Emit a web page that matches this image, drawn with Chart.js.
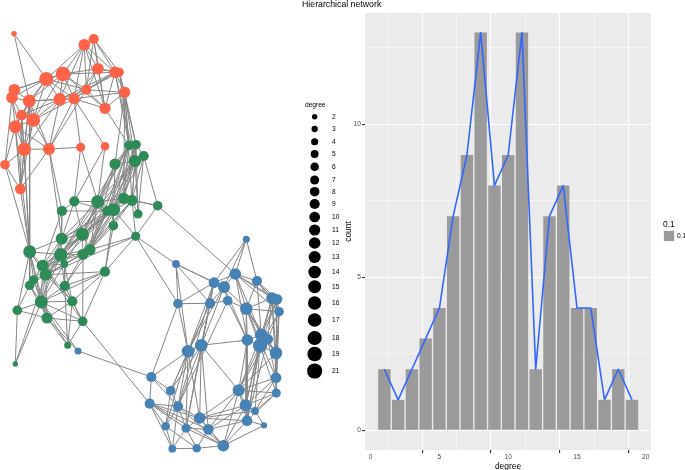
<!DOCTYPE html>
<html lang="en">
<head>
<meta charset="UTF-8" />
<title>Hierarchical network</title>
<script src="https://cdn.jsdelivr.net/npm/chart.js"></script>
<style>
  html, body { margin: 0; padding: 0; background: #fff; width: 685px; height: 470px; overflow: hidden; }
  body { position: relative; font-family: 'Liberation Sans', Arial, sans-serif; }
  canvas { position: absolute; display: block; }
  #network { left: 0; top: 0; }
  #sizeKey { left: 295px; top: 0; }
  #hist { left: 340px; top: 0; }
  .txt { position: absolute; white-space: nowrap; line-height: 1; }
  #title { left: 302px; top: 0; font-size: 8.75px; color: #000; }
  #keyTitle { left: 305px; top: 101.5px; font-size: 6.6px; color: #000; }
  #fillTitle { left: 663px; top: 219.5px; font-size: 8.4px; color: #000; }
  #fillLabel { left: 677px; top: 233px; font-size: 6.6px; color: #000; }
  #swatch { position: absolute; left: 663px; top: 230px; width: 12px; height: 12px; background: #f2f2f2; }
  #swatch i { position: absolute; left: 0.6px; top: 0.6px; width: 10.8px; height: 10.8px; background: #9a9a9a; }
</style>
</head>
<body>
<canvas id="network" width="295" height="470"></canvas>
<canvas id="sizeKey" width="50" height="470"></canvas>
<canvas id="hist" width="315" height="470"></canvas>
<div class="txt" id="title">Hierarchical network</div>
<div class="txt" id="keyTitle">degree</div>
<div class="txt" id="fillTitle">0.1</div>
<div id="swatch"><i></i></div>
<div class="txt" id="fillLabel">0.1</div>

<script>
  // layout positions of the network nodes, one list per community
  const redX = [14, 93.7, 84.3, 46.3, 63, 98, 115, 119.3, 14.3, 12, 29.3, 59.7, 74, 86.3, 124.7, 105, 21.7, 33.3, 15.3, 24.3, 49, 80.7, 105, 5, 20.3];
  const redY = [33.7, 39, 44.7, 79, 74, 68.7, 72.3, 72.3, 89.7, 97.7, 101, 99.3, 98.7, 89.7, 92.3, 108.3, 115, 120, 126.7, 149.3, 149, 147.3, 146.3, 164.7, 189];
  const redDegree = [2, 9, 12, 18, 19, 12, 12, 7, 12, 12, 15, 14, 11, 9, 11, 11, 10, 17, 15, 16, 13, 7, 6, 8, 10];

  const greenX = [129, 136, 143.7, 135, 115, 74.3, 97.7, 123.7, 132, 157.7, 62, 107.3, 113.7, 138, 113.3, 135.7, 61.7, 82.3, 29.7, 60.7, 83, 90, 64.3, 42.7, 45.7, 105, 33.7, 29.7, 64.7, 41.3, 72.3, 17.3, 47, 82.7, 67.7, 15.3];
  const greenY = [145.3, 144.7, 156, 161, 164, 201.3, 201.7, 198.3, 200.3, 205.7, 211, 211, 209.7, 214, 225.7, 236.3, 238.7, 234.3, 251.7, 254.7, 254.3, 249.7, 264, 265.7, 274.7, 271.7, 279.7, 285.3, 286, 302, 301.3, 310.3, 318, 321.3, 345.3, 364];
  const greenDegree = [8, 8, 9, 13, 11, 9, 15, 11, 11, 8, 9, 9, 15, 7, 8, 7, 13, 15, 15, 16, 11, 11, 5, 13, 13, 9, 7, 8, 9, 15, 9, 8, 11, 8, 4, 2];

  const blueX = [78, 246.3, 176, 235.3, 214, 224, 257, 178, 210, 227.7, 246.3, 272, 277, 279, 247.3, 261.3, 267.7, 260, 276, 201.3, 188, 151.3, 170.7, 238.7, 276, 276.3, 149.7, 178, 245.7, 255, 247, 264, 199.7, 165.7, 186, 208.3, 223.3, 172.3, 196.7];
  const blueY = [351, 239.3, 264, 274, 282.7, 287, 281, 303.7, 303.3, 300.7, 308.7, 298, 299.3, 311.7, 340, 335, 339.3, 345.7, 353, 345.3, 351.3, 377, 390.7, 390.3, 377.7, 393, 403.7, 406.3, 405.3, 411, 420.7, 425.3, 418, 426.3, 428.3, 429.3, 445.7, 448.7, 448.3];
  const blueDegree = [4, 4, 5, 12, 10, 13, 9, 8, 9, 8, 14, 12, 10, 8, 12, 15, 10, 18, 14, 14, 14, 9, 8, 13, 10, 7, 9, 9, 13, 5, 10, 3, 12, 6, 7, 10, 12, 5, 6];

  // edges as "from-to", r/g/b plus the index in that community's lists
  const redEdges = `r0-r3 r0-r10 r2-r3 r2-r4 r2-r11 r2-r12 r2-r13 r2-r15 r2-r6 r2-r5 r1-r6 r1-r5 r1-r7 r1-r2 r1-r13 r1-r15
    r3-r4 r3-r8 r3-r9 r3-r10 r3-r17 r3-r16 r3-r12 r3-r11 r3-r13 r4-r5 r4-r6 r4-r11 r4-r12 r4-r10 r4-r8 r4-r17 r4-r13 r4-r15
    r5-r6 r5-r13 r5-r15 r5-r7 r5-r12 r6-r13 r6-r14 r6-r15 r6-r12 r6-r11 r7-r14 r7-r13 r8-r9 r8-r10 r9-r10 r9-r16 r9-r18 r9-r19 r9-r23
    r10-r11 r10-r12 r10-r16 r10-r17 r10-r18 r10-r19 r10-r20 r11-r12 r11-r17 r11-r16 r11-r19 r11-r20 r11-r13 r12-r13 r12-r14 r12-r15 r12-r17 r12-r20 r12-r21 r12-r22
    r13-r14 r13-r15 r13-r20 r14-r15 r16-r17 r16-r19 r16-r18 r17-r18 r17-r19 r17-r20 r18-r19 r18-r20 r18-r23
    r19-r20 r19-r23 r19-r24 r20-r21 r20-r24 r23-r24 r17-r24 r18-r24 r16-r24 r10-r24`.split(/\s+/);
  const greenEdges = `r14-g0 r14-g1 r14-g3 r14-g4 r14-g7 r14-g8 r6-g3 r7-g0 r7-g1 r6-g0 r15-g0 r20-g10 r20-g16 r21-g5 r21-g6 r22-g5 r22-g6 r19-g18 r24-g18 r18-g18 r23-g18 r16-g18 r10-g18
    g0-g1 g0-g3 g0-g4 g1-g2 g1-g3 g2-g3 g2-g9 g3-g4 g3-g6 g3-g7 g3-g8 g3-g12 g3-g11 g4-g6 g4-g12 g0-g6 g0-g11 g0-g12 g0-g7 g1-g7 g1-g8 g1-g13 g2-g8 g2-g13 g3-g13
    g0-g21 g0-g17 g3-g17 g3-g20 g1-g12 g4-g17 g4-g21 g2-g12 g3-g19 g0-g19 g1-g21 g12-g24
    g5-g6 g5-g10 g5-g17 g5-g16 g5-g11 g6-g7 g6-g11 g6-g12 g6-g17 g6-g16 g6-g21 g6-g19 g6-g20 g7-g8 g7-g9 g7-g12 g7-g11 g7-g21 g7-g19
    g8-g9 g8-g12 g8-g13 g8-g21 g8-g20 g8-g15 g8-g14 g9-g15 g10-g16 g10-g19 g10-g11 g10-g23 g11-g12 g11-g17 g11-g19 g11-g16 g11-g21
    g12-g14 g12-g15 g12-g17 g12-g20 g12-g21 g12-g19 g12-g25 g12-g16 g12-g23 g14-g25 g14-g21 g15-g25 g15-g21 g15-g24
    g16-g17 g16-g19 g16-g23 g16-g24 g16-g29 g17-g19 g17-g20 g17-g21 g17-g22 g17-g24 g17-g23 g18-g19 g18-g16 g18-g23 g18-g24 g18-g26 g18-g27 g18-g29 g18-g31 g18-g32
    g19-g20 g19-g21 g19-g22 g19-g23 g19-g24 g19-g26 g19-g29 g19-g28 g20-g21 g20-g24 g20-g33 g20-g28 g20-g23 g21-g24 g21-g23 g21-g28
    g22-g23 g22-g24 g22-g29 g22-g30 g22-g28 g23-g24 g23-g26 g23-g27 g23-g29 g23-g30 g23-g33 g24-g26 g24-g27 g24-g29 g24-g32 g24-g30 g24-g25
    g25-g33 g25-g28 g25-g29 g25-g30 g26-g27 g26-g29 g26-g32 g27-g29 g27-g32 g27-g31 g28-g29 g28-g30 g28-g33 g28-g34
    g29-g30 g29-g31 g29-g32 g29-g33 g29-g34 g30-g32 g30-g33 g30-g34 g31-g32 g31-g35 g32-g33 g32-g34 g33-g34 g35-g29 g35-g24`.split(/\s+/);
  const blueEdges = `g9-b3 g15-b2 g15-b7 g29-b0 g32-b0 g33-b26 b0-b21 b1-b3 b1-b5 b1-b4 b1-b6 b2-b4 b2-b5 b2-b7 b2-b20 b2-b8 b7-b21 b7-b20 b7-b4 b7-b8
    b3-b4 b3-b5 b3-b6 b3-b10 b3-b11 b3-b12 b3-b13 b3-b15 b3-b14 b4-b5 b4-b8 b4-b19 b4-b20 b4-b27 b5-b9 b5-b8 b5-b19 b5-b20 b5-b10 b5-b14
    b6-b10 b6-b11 b6-b12 b6-b13 b6-b15 b8-b9 b8-b19 b8-b20 b8-b22 b8-b34 b9-b10 b9-b14 b9-b27 b10-b11 b10-b13 b10-b14 b10-b15 b10-b17 b10-b16 b10-b18 b10-b24 b10-b28
    b11-b12 b11-b13 b11-b15 b11-b16 b11-b17 b11-b18 b11-b24 b12-b13 b12-b15 b12-b17 b12-b18 b12-b24 b13-b17 b13-b18 b13-b24 b13-b25 b13-b16
    b14-b15 b14-b17 b14-b19 b14-b23 b14-b28 b14-b30 b15-b16 b15-b17 b15-b18 b15-b23 b15-b28 b15-b30 b16-b17 b16-b18 b16-b23 b16-b24 b16-b30
    b17-b18 b17-b23 b17-b28 b17-b29 b17-b30 b17-b25 b18-b24 b18-b25 b18-b23 b19-b20 b19-b23 b19-b22 b19-b27 b19-b32 b19-b35 b19-b34
    b20-b21 b20-b22 b20-b27 b20-b32 b20-b33 b20-b34 b21-b22 b21-b27 b21-b26 b22-b27 b22-b33
    b23-b24 b23-b25 b23-b28 b23-b30 b23-b32 b23-b35 b23-b36 b24-b25 b24-b28 b24-b29 b25-b29 b25-b28 b25-b30 b28-b30 b28-b29 b28-b32 b28-b35 b28-b36
    b29-b31 b29-b32 b30-b31 b30-b35 b30-b36 b30-b32 b31-b36 b26-b27 b26-b32 b26-b33 b26-b34 b26-b35 b26-b36 b26-b37 b27-b32 b27-b33 b27-b34 b27-b36 b27-b37
    b32-b34 b32-b35 b32-b36 b33-b37 b33-b38 b34-b35 b34-b36 b34-b37 b34-b38 b35-b36 b35-b38 b36-b38 b37-b38`.split(/\s+/);

  // size legend
  const keyDegrees = [2, 3, 4, 5, 6, 7, 8, 9, 10, 11, 12, 13, 14, 15, 16, 17, 18, 19, 21];
  const keyRows = [116.7, 129, 141.7, 154, 166.7, 180, 191.7, 204, 217, 230, 243, 257, 272, 286.7, 303, 320, 338, 354, 371];

  // histogram
  const degreeBins = [1, 2, 3, 4, 5, 6, 7, 8, 9, 10, 11, 12, 13, 14, 15, 16, 17, 18, 19];
  const degreeCounts = [2, 1, 2, 3, 4, 7, 9, 13, 8, 9, 13, 2, 7, 8, 4, 4, 1, 2, 1];

  const sizeOf = d => Math.sqrt(2 + 2.66 * d);
  const nodes = { r: [redX, redY], g: [greenX, greenY], b: [blueX, blueY] };

  function nodeAt(key) {
    const [xs, ys] = nodes[key[0]];
    const i = +key.slice(1);
    return { x: xs[i], y: ys[i] };
  }

  // one line dataset, NaN points break it into separate edges
  function edgeLine(edges) {
    const out = [];
    edges.forEach(e => {
      const [a, b] = e.split('-');
      out.push(nodeAt(a), nodeAt(b), { x: NaN, y: NaN });
    });
    return out;
  }

  function nodeSet(xs, ys, degrees, color) {
    return {
      data: xs.map((x, i) => ({ x: x, y: ys[i] })),
      pointRadius: degrees.map(sizeOf),
      pointBackgroundColor: color,
      pointBorderWidth: 0,
      showLine: false,
      order: 1
    };
  }

  // the axes get a fixed size so the plot area lands where it should
  function fixAxis(s, size) {
    if (s.isHorizontal()) s.height = size; else s.width = size;
    s.paddingTop = s.paddingBottom = s.paddingLeft = s.paddingRight = 0;
  }

  new Chart(document.getElementById('network'), {
    type: 'scatter',
    data: {
      datasets: [
        {
          data: edgeLine(redEdges.concat(greenEdges, blueEdges)),
          showLine: true,
          spanGaps: false,
          borderColor: '#868686',
          borderWidth: 1,
          pointRadius: 0,
          order: 2
        },
        nodeSet(redX, redY, redDegree, '#FF6347'),
        nodeSet(greenX, greenY, greenDegree, '#2E8B57'),
        nodeSet(blueX, blueY, blueDegree, '#4682B4')
      ]
    },
    options: {
      responsive: false,
      animation: false,
      layout: { autoPadding: false },
      plugins: { legend: { display: false }, tooltip: { enabled: false } },
      scales: {
        x: { display: false, min: 0, max: 295 },
        y: { display: false, min: 0, max: 470, reverse: true }
      }
    }
  });

  new Chart(document.getElementById('sizeKey'), {
    type: 'scatter',
    data: {
      datasets: [{
        data: keyDegrees.map((d, i) => ({ x: 1, y: keyRows[i] })),
        pointRadius: keyDegrees.map(sizeOf),
        pointBackgroundColor: '#000',
        pointBorderWidth: 0,
        clip: false
      }]
    },
    options: {
      responsive: false,
      animation: false,
      layout: { autoPadding: false },
      plugins: { legend: { display: false }, tooltip: { enabled: false } },
      scales: {
        x: { display: false, min: 0, max: 1.17 },
        y: {
          position: 'right',
          min: 0,
          max: 470,
          reverse: true,
          grid: { display: false },
          border: { display: false },
          afterFit: s => fixAxis(s, 27),
          afterBuildTicks: s => { s.ticks = keyRows.map(v => ({ value: v })); },
          ticks: {
            autoSkip: false,
            padding: 6,
            color: '#000',
            font: { family: 'Liberation Sans', size: 6.6 },
            callback: v => keyDegrees[keyRows.indexOf(v)]
          }
        }
      }
    }
  });

  const panelFill = {
    id: 'panelFill',
    beforeDraw(chart) {
      const a = chart.chartArea;
      chart.ctx.fillStyle = '#EBEBEB';
      chart.ctx.fillRect(a.left, a.top, a.width, a.height);
    }
  };

  const isMajor = c => c.tick && Math.abs(c.tick.value % 5) < 0.001;
  const gridOpts = {
    color: '#fff',
    lineWidth: c => (isMajor(c) ? 1.1 : 0.5),
    tickColor: c => (isMajor(c) ? '#333' : 'rgba(0,0,0,0)'),
    tickLength: 3
  };
  const tickOpts = {
    stepSize: 2.5,
    includeBounds: false,
    autoSkip: false,
    maxRotation: 0,
    padding: 1,
    color: '#4D4D4D',
    font: { family: 'Liberation Sans', size: 6.6 },
    callback: v => (Math.abs(v % 5) < 0.001 ? String(v) : '')
  };

  new Chart(document.getElementById('hist'), {
    type: 'bar',
    data: {
      datasets: [
        {
          type: 'line',
          data: degreeBins.map((b, i) => ({ x: b, y: degreeCounts[i] })),
          borderColor: '#3366FF',
          borderWidth: 1.6,
          borderJoinStyle: 'round',
          pointRadius: 0,
          tension: 0,
          order: 1
        },
        {
          data: degreeBins.map((b, i) => ({ x: b, y: degreeCounts[i] })),
          backgroundColor: 'rgba(140,140,140,0.85)',
          borderWidth: 0,
          barPercentage: 0.9,
          categoryPercentage: 1,
          order: 2
        }
      ]
    },
    options: {
      responsive: false,
      animation: false,
      layout: { autoPadding: false, padding: { top: 13, right: 4 } },
      plugins: { legend: { display: false }, tooltip: { enabled: false } },
      scales: {
        x: {
          type: 'linear',
          offset: false,
          min: -0.41,
          max: 20.38,
          grid: gridOpts,
          border: { display: false },
          ticks: { ...tickOpts, padding: 0 },
          afterFit: s => fixAxis(s, 20),
          title: { display: true, text: 'degree', color: '#000', padding: { top: 0, bottom: -1.5 }, font: { family: 'Liberation Sans', size: 8.4 } }
        },
        y: {
          min: -0.64,
          max: 13.64,
          grid: gridOpts,
          border: { display: false },
          ticks: tickOpts,
          afterFit: s => fixAxis(s, 25),
          title: { display: true, text: 'count', color: '#000', padding: { top: 4, bottom: 0 }, font: { family: 'Liberation Sans', size: 8.4 } }
        }
      }
    },
    plugins: [panelFill]
  });
</script>
</body>
</html>
